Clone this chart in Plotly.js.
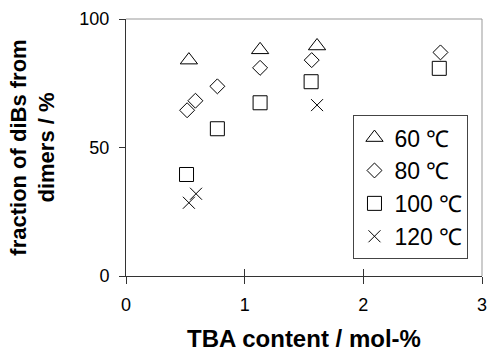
<!DOCTYPE html>
<html>
<head>
<meta charset="utf-8">
<script src="https://cdn.plot.ly/plotly-3.0.1.min.js"></script>
<style>html,body{margin:0;padding:0;background:#fff;}#chart{width:489px;height:352px;}</style>
</head>
<body>
<div id="chart"></div>
<script>
// Data
const seriesNames = ["60 ℃", "80 ℃", "100 ℃", "120 ℃"];
const x60 = [0.53, 1.13, 1.61];
const y60 = [84, 88, 89.5];
const x80 = [0.515, 0.585, 0.77, 1.13, 1.565, 2.65];
const y80 = [64.5, 68.2, 73.8, 81, 84, 87];
const x100 = [0.51, 0.77, 1.13, 1.56, 2.64];
const y100 = [39.5, 57.3, 67.4, 75.6, 80.8];
const x120 = [0.53, 0.59, 1.61];
const y120 = [28.5, 32, 66.5];
const xTicks = [0, 1, 2, 3];
const yTicks = [0, 50, 100];

const symbols = ["triangle-up-open", "diamond-open", "square-open", "x-thin-open"];
const sizes = [15, 11.5, 14, 12];
const xs = [x60, x80, x100, x120];
const ys = [y60, y80, y100, y120];

const traces = seriesNames.map((n, i) => ({
  type: "scatter", mode: "markers", name: n,
  x: xs[i], y: ys[i],
  marker: {symbol: symbols[i], size: sizes[i], color: "#000", line: {color: "#000", width: 1}}
}));
// empty trace to carry the inner tick marks of the x axis
traces.push({type: "scatter", mode: "markers", x: [], y: [], xaxis: "x2", yaxis: "y", showlegend: false, hoverinfo: "skip"});

const axisColor = "#333";
const layout = {
  width: 489, height: 352,
  margin: {l: 126, r: 7, t: 19, b: 76},
  paper_bgcolor: "#fff", plot_bgcolor: "#fff",
  font: {family: "Arial, Liberation Sans, sans-serif", color: "#000"},
  showlegend: true,
  legend: {
    x: 0.639, y: 0.626, xanchor: "left", yanchor: "top",
    bordercolor: "#444", borderwidth: 1, bgcolor: "#fff",
    font: {size: 23, family: "Arial, Liberation Sans, sans-serif", color: "#000"},
    traceorder: "normal"
  },
  xaxis: {
    range: [0, 3], tickvals: xTicks, ticktext: xTicks.map(String),
    showgrid: false, zeroline: false, showline: true, linecolor: axisColor, linewidth: 1,
    ticks: "outside", ticklen: 7, tickcolor: axisColor, tickwidth: 1,
    tickfont: {size: 18}, ticklabelstandoff: 5, fixedrange: true,
    title: {text: "TBA content / mol-%", font: {size: 24, weight: 700}, standoff: 17}
  },
  xaxis2: {
    overlaying: "x", anchor: "y", side: "bottom", range: [0, 3], tickvals: xTicks,
    showticklabels: false, showgrid: false, zeroline: false, showline: false,
    ticks: "inside", ticklen: 7, tickcolor: axisColor, tickwidth: 1
  },
  yaxis: {
    range: [0, 100], tickvals: yTicks, ticktext: yTicks.map(String),
    showgrid: false, zeroline: false, showline: true, linecolor: axisColor, linewidth: 1,
    ticks: "outside", ticklen: 6, tickcolor: axisColor, tickwidth: 1,
    tickfont: {size: 18}, ticklabelstandoff: 6, fixedrange: true,
    title: {text: "fraction of diBs from<br>dimers / %", font: {size: 22, weight: 700}, standoff: 18}
  },
  shapes: [
    {type: "line", xref: "paper", yref: "paper", x0: 0, x1: 1, y0: 1, y1: 1, line: {color: "#999", width: 1}},
    {type: "line", xref: "paper", yref: "paper", x0: 1, x1: 1, y0: 0, y1: 1, line: {color: "#999", width: 1}}
  ]
};
Plotly.newPlot("chart", traces, layout, {displayModeBar: false, staticPlot: true});
</script>
</body>
</html>
